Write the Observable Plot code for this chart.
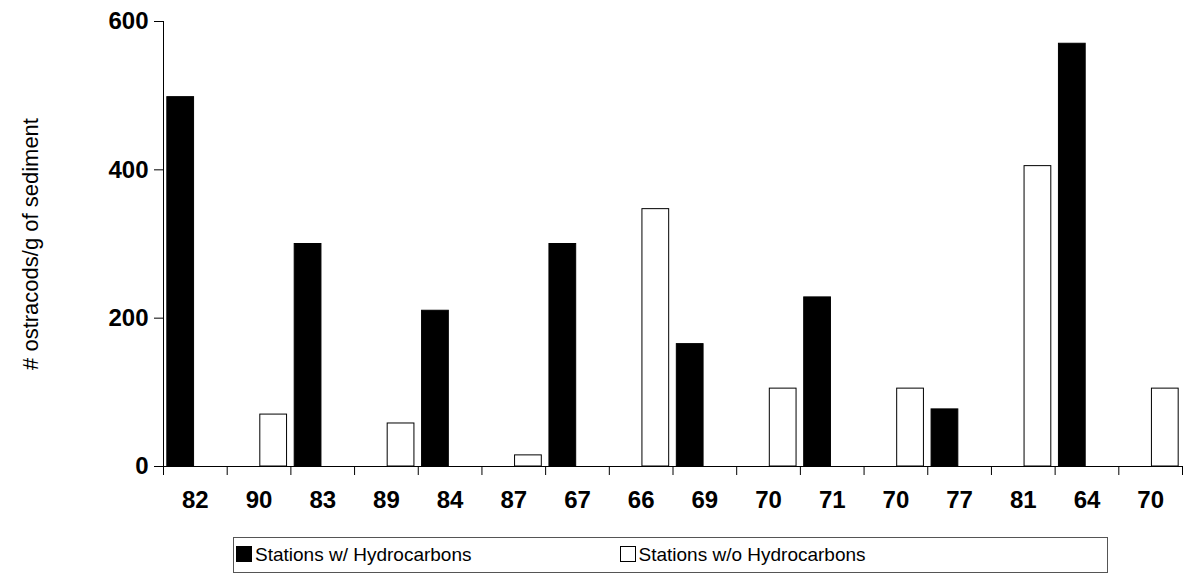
<!DOCTYPE html>
<html><head>
<script src="https://cdn.jsdelivr.net/npm/d3@7"></script>
<script src="https://cdn.jsdelivr.net/npm/@observablehq/plot@0.6"></script>
<style>
body{margin:0;background:#fff;font-family:"Liberation Sans",Arial,sans-serif}
#legend{position:absolute;left:233px;top:537px;width:873px;height:34px;border:1px solid #555;display:flex;align-items:center;font-size:19px}
.sw{display:inline-block;width:14px;height:14px;border:1px solid #000;margin-right:3px;vertical-align:-1px}
</style></head><body>
<div id="chart"></div>
<div id="legend"><span style="margin-left:2px"><span class="sw" style="background:#000"></span>Stations w/ Hydrocarbons</span><span style="margin-left:148px"><span class="sw" style="background:#fff"></span>Stations w/o Hydrocarbons</span></div>
<script>
const labels = ["82","90","83","89","84","87","67","66","69","70","71","70","77","81","64","70"]
const withHC = [498,0,300,0,210,0,300,0,165,0,228,0,77,0,570,0]
const withoutHC = [0,70,0,58,0,15,0,347,0,105,0,105,0,405,0,105]

const data = []
labels.forEach((l,i) => {
  data.push({i, s:"with", v:withHC[i]})
  data.push({i, s:"without", v:withoutHC[i]})
})

let chart = Plot.plot({
  width:1185, height:520,
  marginTop:21, marginBottom:54, marginLeft:163, marginRight:3,
  style:{fontFamily:"Liberation Sans, Arial, sans-serif"},
  x:{domain:[0,16], axis:null},
  y:{domain:[0,600], axis:null},
  marks:[
    Plot.rectY(data.filter(d=>d.v>0), {
      x1: d => d.s==="with" ? d.i+0.06 : d.i+0.52,
      x2: d => d.s==="with" ? d.i+0.48 : d.i+0.94,
      y: "v", fill: d => d.s==="with" ? "#000" : "#fff", stroke:"#000", strokeWidth:1
    }),
    Plot.axisX({ticks:d3.range(17), tickSize:9, tickFormat:()=>"", stroke:"#000"}),
    Plot.axisX({ticks:d3.range(16).map(i=>i+0.5), tickSize:0, tickPadding:24,
      tickFormat:(d)=>labels[Math.floor(d)], fontSize:24, fontWeight:"bold", fill:"#000"}),
    Plot.axisY({ticks:[0,200,400,600], tickSize:9, tickPadding:6, fontSize:24, fontWeight:"bold",
      label:null}),
    Plot.text(["# ostracods/g of sediment"], {frameAnchor:"left", dx:-133, rotate:-90,
      textAnchor:"middle", fontSize:22, fill:"#000"}),
    Plot.ruleY([0], {stroke:"#000"}),
    Plot.ruleX([0], {stroke:"#000"})
  ]
})
d3.select('#chart').append(() => chart)
</script>
</body></html>
